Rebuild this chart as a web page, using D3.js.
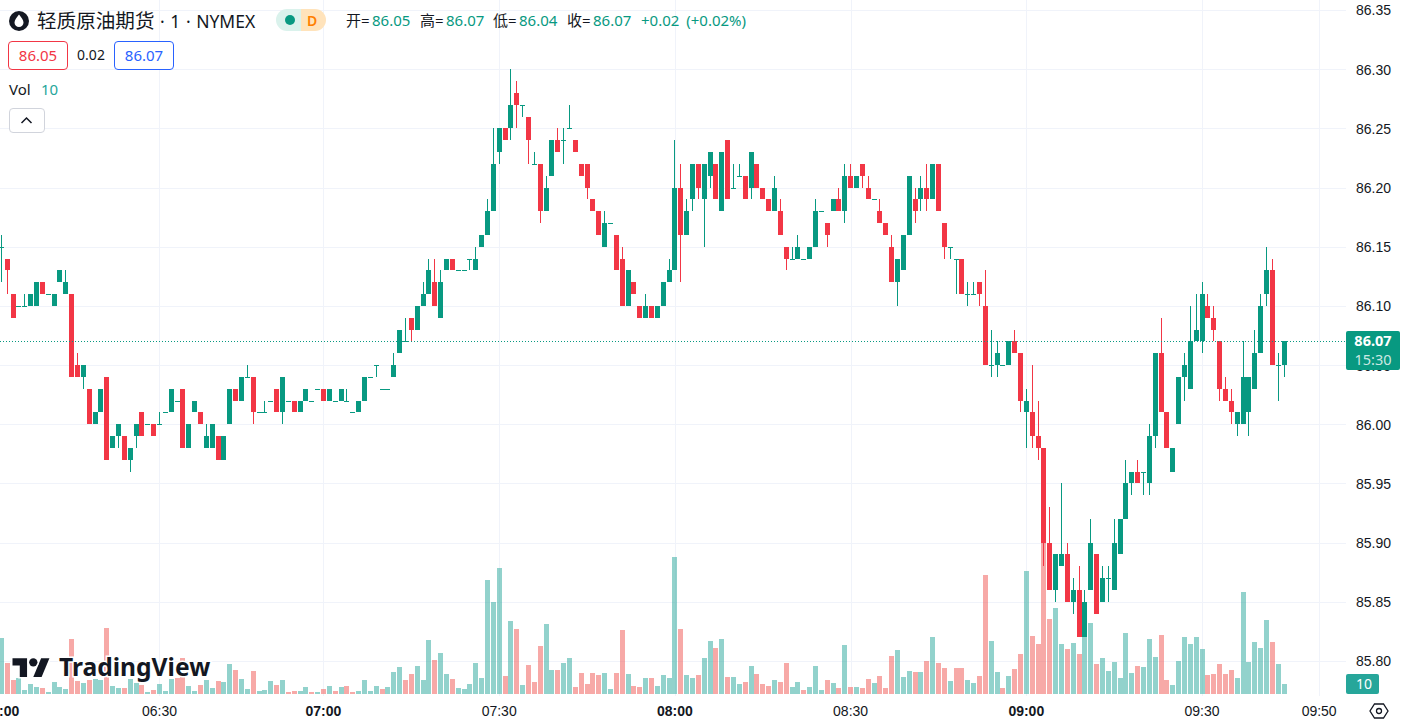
<!DOCTYPE html>
<html lang="zh">
<head>
<meta charset="UTF-8" />
<title>轻质原油期货 1分钟</title>
<style>
  html, body { margin: 0; padding: 0; background: #fff; overflow: hidden; }
  svg { display: block; font-family: "Noto Sans", "Noto Sans CJK SC", sans-serif; }
  .axis text { font-size: 14px; fill: #131722; }
  .axis path, .axis line { display: none; }
</style>
</head>
<body>
<script src="https://cdn.jsdelivr.net/npm/d3@7"></script>
<script>
const opens = [
  86.15,86.14,86.11,86.10,86.10,86.10,86.10,86.12,86.11,86.10,
  86.12,86.11,86.11,86.05,86.04,86.03,86.00,86.01,86.04,85.98,
  85.99,85.99,85.97,85.99,86.01,86.00,86.00,86.00,86.01,86.01,
  86.02,86.03,85.98,86.01,86.01,85.98,85.98,85.99,85.97,86.00,
  86.03,86.02,86.04,86.04,86.01,86.01,86.02,86.03,86.01,86.02,
  86.02,86.01,86.02,86.02,86.03,86.03,86.02,86.02,86.02,86.02,
  86.01,86.01,86.02,86.04,86.05,86.03,86.03,86.04,86.06,86.07,
  86.09,86.08,86.10,86.11,86.12,86.09,86.13,86.14,86.13,86.13,
  86.14,86.13,86.15,86.16,86.18,86.23,86.25,86.25,86.28,86.27,
  86.26,86.22,86.22,86.18,86.21,86.24,86.24,86.25,86.24,86.22,
  86.22,86.19,86.18,86.15,86.17,86.16,86.14,86.10,86.12,86.10,
  86.09,86.10,86.09,86.10,86.12,86.13,86.20,86.16,86.19,86.22,
  86.19,86.21,86.22,86.18,86.24,86.20,86.21,86.21,86.20,86.22,
  86.20,86.19,86.18,86.18,86.15,86.14,86.14,86.14,86.14,86.15,
  86.18,86.17,86.18,86.19,86.18,86.21,86.20,86.22,86.20,86.19,
  86.18,86.17,86.15,86.12,86.13,86.16,86.19,86.19,86.20,86.19,
  86.22,86.17,86.15,86.14,86.14,86.11,86.11,86.12,86.10,86.05,
  86.05,86.05,86.05,86.07,86.06,86.01,86.01,85.99,85.98,85.90,
  85.86,85.88,85.89,85.85,85.86,85.82,85.86,85.89,85.85,85.87,
  85.86,85.89,85.92,85.95,85.96,85.96,85.95,85.99,86.06,86.01,
  85.96,86.00,86.04,86.03,86.07,86.07,86.10,86.09,86.07,86.03,
  86.02,86.00,86.00,86.01,86.03,86.06,86.11,86.13,86.05,86.05
];
const highs = [
  86.16,86.14,86.11,86.10,86.11,86.11,86.12,86.12,86.11,86.11,
  86.13,86.13,86.11,86.06,86.05,86.03,86.01,86.03,86.04,85.99,
  86.00,85.99,85.98,86.00,86.01,86.00,86.00,86.01,86.01,86.03,
  86.02,86.03,86.00,86.02,86.01,86.00,86.00,85.99,85.99,86.03,
  86.03,86.04,86.05,86.04,86.01,86.02,86.02,86.03,86.04,86.02,
  86.02,86.02,86.03,86.02,86.03,86.03,86.03,86.02,86.03,86.03,
  86.01,86.02,86.04,86.04,86.05,86.03,86.03,86.06,86.08,86.09,
  86.09,86.10,86.12,86.14,86.14,86.13,86.14,86.14,86.13,86.13,
  86.14,86.15,86.16,86.19,86.25,86.25,86.25,86.30,86.29,86.27,
  86.26,86.23,86.22,86.21,86.24,86.25,86.25,86.27,86.24,86.22,
  86.22,86.19,86.18,86.18,86.17,86.16,86.15,86.13,86.12,86.10,
  86.11,86.10,86.10,86.12,86.14,86.24,86.22,86.19,86.22,86.22,
  86.22,86.23,86.22,86.23,86.24,86.22,86.22,86.21,86.23,86.22,
  86.20,86.19,86.21,86.19,86.15,86.15,86.16,86.14,86.15,86.19,
  86.18,86.17,86.19,86.20,86.22,86.22,86.21,86.22,86.21,86.19,
  86.19,86.17,86.16,86.14,86.16,86.21,86.20,86.21,86.22,86.22,
  86.22,86.17,86.15,86.14,86.14,86.12,86.12,86.12,86.13,86.08,
  86.07,86.05,86.07,86.08,86.06,86.03,86.05,86.02,85.98,85.93,
  85.89,85.95,85.90,85.87,85.88,85.86,85.92,85.89,85.88,85.88,
  85.92,85.92,85.97,85.96,85.97,85.96,86.00,86.06,86.09,86.01,
  85.98,86.04,86.06,86.10,86.11,86.12,86.11,86.10,86.07,86.04,
  86.03,86.01,86.07,86.04,86.08,86.11,86.15,86.14,86.06,86.07
];
const lows = [
  86.12,86.11,86.09,86.10,86.10,86.10,86.10,86.11,86.11,86.10,
  86.12,86.11,86.04,86.04,86.03,86.00,86.00,86.01,85.97,85.98,
  85.98,85.97,85.96,85.98,85.99,86.00,85.99,86.00,86.01,86.01,
  86.02,85.98,85.98,86.01,86.00,85.98,85.98,85.97,85.97,86.00,
  86.02,86.02,86.04,86.00,86.01,86.01,86.02,86.01,86.00,86.02,
  86.01,86.01,86.02,86.02,86.03,86.02,86.02,86.02,86.02,86.02,
  86.01,86.01,86.02,86.04,86.04,86.03,86.03,86.04,86.06,86.07,
  86.07,86.08,86.10,86.11,86.10,86.09,86.13,86.13,86.13,86.13,
  86.13,86.13,86.15,86.16,86.18,86.22,86.24,86.24,86.25,86.26,
  86.22,86.22,86.17,86.18,86.21,86.23,86.22,86.25,86.23,86.21,
  86.19,86.18,86.16,86.15,86.17,86.13,86.10,86.10,86.11,86.09,
  86.09,86.09,86.09,86.10,86.12,86.13,86.12,86.16,86.18,86.19,
  86.15,86.20,86.19,86.18,86.19,86.20,86.21,86.19,86.19,86.20,
  86.19,86.18,86.18,86.16,86.13,86.14,86.14,86.14,86.14,86.15,
  86.18,86.15,86.18,86.18,86.17,86.20,86.20,86.20,86.19,86.19,
  86.17,86.16,86.12,86.10,86.13,86.16,86.17,86.18,86.18,86.19,
  86.18,86.14,86.14,86.11,86.11,86.10,86.11,86.10,86.05,86.04,
  86.04,86.05,86.05,86.06,86.01,85.98,85.98,85.97,85.88,85.86,
  85.85,85.88,85.85,85.84,85.82,85.82,85.86,85.84,85.85,85.85,
  85.86,85.89,85.92,85.94,85.95,85.94,85.94,85.98,86.01,85.98,
  85.96,86.00,86.02,86.03,86.07,86.06,86.09,86.07,86.02,86.02,
  86.00,85.99,86.00,85.99,86.03,86.06,86.10,86.05,86.02,86.04
];
const closes = [
  86.15,86.13,86.09,86.10,86.10,86.11,86.12,86.11,86.11,86.11,
  86.13,86.12,86.04,86.04,86.05,86.00,86.01,86.03,85.97,85.99,
  86.00,85.97,85.98,86.00,85.99,86.00,85.99,86.00,86.01,86.03,
  86.02,85.98,86.00,86.02,86.00,85.99,86.00,85.97,85.99,86.03,
  86.02,86.04,86.04,86.01,86.01,86.01,86.02,86.01,86.04,86.02,
  86.01,86.02,86.03,86.02,86.03,86.02,86.03,86.02,86.03,86.02,
  86.01,86.02,86.04,86.04,86.05,86.03,86.03,86.05,86.08,86.07,
  86.08,86.10,86.11,86.13,86.10,86.12,86.14,86.13,86.13,86.13,
  86.14,86.14,86.16,86.18,86.22,86.25,86.24,86.27,86.27,86.27,
  86.24,86.22,86.18,86.20,86.24,86.23,86.24,86.25,86.23,86.21,
  86.20,86.18,86.16,86.17,86.17,86.13,86.10,86.13,86.11,86.09,
  86.10,86.09,86.10,86.12,86.13,86.20,86.16,86.18,86.22,86.20,
  86.22,86.23,86.19,86.23,86.19,86.20,86.21,86.19,86.23,86.20,
  86.19,86.18,86.20,86.16,86.14,86.14,86.15,86.14,86.15,86.18,
  86.18,86.16,86.19,86.18,86.21,86.20,86.21,86.21,86.19,86.19,
  86.17,86.16,86.12,86.14,86.16,86.21,86.18,86.20,86.19,86.22,
  86.18,86.15,86.15,86.14,86.11,86.11,86.11,86.11,86.05,86.05,
  86.06,86.05,86.07,86.06,86.02,86.02,85.99,85.98,85.90,85.86,
  85.89,85.89,85.85,85.86,85.82,85.85,85.90,85.84,85.87,85.87,
  85.90,85.92,85.95,85.96,85.95,85.96,85.99,86.06,86.01,85.98,
  85.98,86.04,86.05,86.07,86.08,86.11,86.09,86.08,86.03,86.02,
  86.01,86.01,86.04,86.04,86.06,86.10,86.13,86.05,86.05,86.07
];
const volumes = [
  56,31,14,16,4,10,7,6,2,12,
  7,5,55,13,11,14,15,14,66,8,
  6,6,15,11,9,2,4,10,3,15,
  16,36,8,3,9,14,6,13,12,30,
  24,15,5,23,3,4,13,9,14,2,
  3,3,7,2,2,5,8,3,7,8,
  2,3,14,3,8,5,7,22,27,14,
  20,28,14,54,34,41,20,15,6,5,
  10,31,16,114,92,126,18,73,65,9,
  29,12,48,70,24,24,31,36,7,21,
  10,21,19,21,5,21,64,20,8,7,
  16,16,8,19,16,137,65,19,16,19,
  36,53,46,55,17,17,10,12,28,20,
  10,8,14,12,31,7,12,4,7,28,
  4,14,11,6,49,7,7,6,15,11,
  18,6,38,44,17,23,22,22,33,57,
  31,26,13,26,26,14,11,18,119,53,
  22,6,18,25,40,123,58,50,155,75,
  86,50,45,51,40,60,71,30,36,23,
  32,16,61,21,28,27,55,37,59,14,
  9,33,57,50,57,45,19,20,30,20,
  24,16,102,32,52,46,74,52,30,10
];

const priceTicks = [86.35,86.30,86.25,86.20,86.15,86.10,86.05,86.00,85.95,85.90,85.85,85.80];
const timeLabels = ["06:00","06:30","07:00","07:30","08:00","08:30","09:00","09:30","09:50"];
const timeBars = [0,27,55,85,115,145,175,205,225]; // bar index of each label, a few minutes have no bar
const boldTimes = ["06:00","07:00","08:00","09:00"];
const lastPrice = 86.07;

const green = "#089981", red = "#f23645";
const volGreen = "#26a69a", volRed = "#ef5350";
const W = 1406, H = 725;

const svg = d3.select("body").append("svg").attr("width", W).attr("height", H);

const x = d3.scaleLinear().domain([0, 219]).range([1.3, 1284]);
const y = d3.scaleLinear().domain([85.80, 86.35]).range([661, 10]);
const yVol = d3.scaleLinear().domain([0, 137]).range([694, 557]);

// flat bars take the colour of the move from the previous close, only on volume
const volDown = i =>
  closes[i] < opens[i] || (closes[i] === opens[i] && i > 0 && closes[i] < closes[i - 1]);

const timeMap = d3.scaleOrdinal().domain(timeLabels).range(timeBars.map(x));

// grid
const grid = svg.append("g").attr("shape-rendering", "crispEdges").attr("stroke", "#f0f3fa");
grid.selectAll(".h").data(priceTicks).enter().append("line")
  .attr("x1", 0).attr("x2", 1346)
  .attr("y1", d => Math.round(y(d)) + 0.5).attr("y2", d => Math.round(y(d)) + 0.5);
grid.selectAll(".v").data(timeLabels.slice(1)).enter().append("line")
  .attr("y1", 0).attr("y2", 696)
  .attr("x1", d => Math.round(timeMap(d)) + 0.5).attr("x2", d => Math.round(timeMap(d)) + 0.5);

const idx = d3.range(opens.length);
const bodyX = i => Math.round(x(i) - 2.5);

// volume
svg.append("g").attr("shape-rendering", "crispEdges").selectAll("rect").data(idx).enter().append("rect")
  .attr("x", bodyX)
  .attr("width", 5)
  .attr("y", i => yVol(volumes[i]))
  .attr("height", i => yVol(0) - yVol(volumes[i]))
  .attr("fill", i => volDown(i) ? volRed : volGreen)
  .attr("fill-opacity", 0.5);

// candles
const candles = svg.append("g").attr("shape-rendering", "crispEdges");
candles.selectAll("line").data(idx).enter().append("line")
  .attr("x1", i => bodyX(i) + 2.5)
  .attr("x2", i => bodyX(i) + 2.5)
  .attr("y1", i => y(highs[i]))
  .attr("y2", i => y(lows[i]))
  .attr("stroke", i => closes[i] < opens[i] ? red : green);
candles.selectAll("rect").data(idx).enter().append("rect")
  .attr("x", bodyX)
  .attr("width", 5)
  .attr("y", i => y(Math.max(opens[i], closes[i])))
  .attr("height", i => Math.max(1, Math.abs(y(opens[i]) - y(closes[i]))))
  .attr("fill", i => closes[i] < opens[i] ? red : green);

// last price line
svg.append("line")
  .attr("x1", 0).attr("x2", 1346)
  .attr("y1", Math.round(y(lastPrice)) + 0.5).attr("y2", Math.round(y(lastPrice)) + 0.5)
  .attr("stroke", green).attr("stroke-dasharray", "1 2");

// axes
svg.append("g").attr("class", "axis").attr("transform", "translate(1356,0.5)")
  .call(d3.axisRight(y).tickValues(priceTicks).tickFormat(d3.format(".2f")).tickSize(0).tickPadding(0));

const axisX = svg.append("g").attr("class", "axis").attr("transform", "translate(0,706)")
  .call(d3.axisBottom(d3.scalePoint().domain(timeLabels).range([0, 1])).tickSize(0).tickPadding(0));
axisX.selectAll(".tick").attr("transform", d => `translate(${timeMap(d)},0)`);
axisX.selectAll("text")
  .attr("font-weight", d => boldTimes.includes(d) ? 700 : 400)
  .attr("fill-opacity", 1);

// price badges
const badge = svg.append("g");
badge.append("rect").attr("x", 1346).attr("y", 331).attr("width", 54).attr("height", 39).attr("rx", 2).attr("fill", green);
badge.append("text").attr("x", 1373).attr("y", 346).attr("text-anchor", "middle")
  .attr("font-size", 14.5).attr("font-weight", 700).attr("fill", "#fff").text("86.07");
badge.append("text").attr("x", 1373).attr("y", 365).attr("text-anchor", "middle")
  .attr("font-size", 14.5).attr("fill", "#fff").attr("fill-opacity", 0.8).text("15:30");
badge.append("rect").attr("x", 1346).attr("y", 674).attr("width", 33).attr("height", 20).attr("rx", 2).attr("fill", "#26a69a");
badge.append("text").attr("x", 1364).attr("y", 689).attr("text-anchor", "middle")
  .attr("font-size", 14).attr("fill", "#fff").text("10");

// settings icon
const gear = svg.append("g").attr("transform", "translate(1379,711)").attr("fill", "none")
  .attr("stroke", "#131722").attr("stroke-width", 1.3);
gear.append("path").attr("d", "M-4.5 -7 L4.5 -7 L9 0 L4.5 7 L-4.5 7 L-9 0 Z");
gear.append("circle").attr("r", 2.5);

// watermark
const logo = svg.append("g");
logo.append("g").attr("transform", "translate(12.5,654) scale(1.04)")
  .attr("fill", "#131722").attr("stroke", "#fff").attr("stroke-width", 3).attr("paint-order", "stroke")
  .call(g => {
    g.append("path").attr("d", "M14 22H7V11H0V4h14v18z");
    g.append("path").attr("d", "M28 22h-8l7.5-18h8L28 22z");
    g.append("circle").attr("cx", 20).attr("cy", 8).attr("r", 4);
  });
logo.append("text").attr("x", 59).attr("y", 676).attr("font-size", 24.6).attr("font-weight", 700)
  .attr("fill", "#131722").attr("stroke", "#fff").attr("stroke-width", 3).attr("paint-order", "stroke")
  .text("TradingView");

// header
const head = svg.append("g");
head.append("circle").attr("cx", 19).attr("cy", 21).attr("r", 10).attr("fill", "#131722");
head.append("path").attr("d", "M19 14.5 C21 17.5 23.5 19.5 23.5 22.5 A4.5 4.5 0 0 1 14.5 22.5 C14.5 19.5 17 17.5 19 14.5 Z").attr("fill", "#fff");
const title = head.append("text").attr("x", 37).attr("y", 28).attr("fill", "#131722");
title.append("tspan").attr("font-size", 19.6).text("轻质原油期货");
title.append("tspan").attr("font-size", 17.5).attr("word-spacing", 1).text(" · 1 · NYMEX");

head.append("path").attr("d", "M287 9 H301 V31 H287 A11 11 0 0 1 287 9 Z").attr("fill", "#daf2ec");
head.append("path").attr("d", "M301 9 H315 A11 11 0 0 1 315 31 H301 Z").attr("fill", "#ffe3bb");
head.append("circle").attr("cx", 290).attr("cy", 20).attr("r", 5).attr("fill", green);
head.append("text").attr("x", 312).attr("y", 26).attr("text-anchor", "middle").attr("font-size", 14)
  .attr("font-weight", 600).attr("fill", "#ff7f00").text("D");

const ohlcLabels = ["开=", "高=", "低=", "收="];
const ohlcValues = ["86.05", "86.07", "86.04", "86.07"];
const ohlcX = [346, 420, 493, 567];
ohlcLabels.forEach((t, i) => {
  head.append("text").attr("x", ohlcX[i]).attr("y", 26).attr("font-size", 15).attr("fill", "#131722").text(t);
  head.append("text").attr("x", ohlcX[i] + 26).attr("y", 26).attr("font-size", 15).attr("fill", green).text(ohlcValues[i]);
});
head.append("text").attr("x", 641).attr("y", 26).attr("font-size", 15).attr("word-spacing", 3).attr("fill", green).text("+0.02 (+0.02%)");

head.append("rect").attr("x", 8.5).attr("y", 41.5).attr("width", 59).attr("height", 28).attr("rx", 3.5).attr("fill", "#fff").attr("stroke", red);
head.append("text").attr("x", 38).attr("y", 61).attr("text-anchor", "middle").attr("font-size", 15).attr("fill", red).text("86.05");
head.append("text").attr("x", 91).attr("y", 60).attr("text-anchor", "middle").attr("font-size", 14).attr("fill", "#131722").text("0.02");
head.append("rect").attr("x", 114.5).attr("y", 41.5).attr("width", 59).attr("height", 28).attr("rx", 3.5).attr("fill", "#fff").attr("stroke", "#2962ff");
head.append("text").attr("x", 144).attr("y", 61).attr("text-anchor", "middle").attr("font-size", 15).attr("fill", "#2962ff").text("86.07");

head.append("text").attr("x", 9).attr("y", 95).attr("font-size", 15).attr("fill", "#131722").text("Vol");
head.append("text").attr("x", 41).attr("y", 95).attr("font-size", 15).attr("fill", "#26a69a").text("10");

head.append("rect").attr("x", 9.5).attr("y", 108.5).attr("width", 35).attr("height", 24).attr("rx", 3.5).attr("fill", "#fff").attr("stroke", "#d1d4dc");
head.append("path").attr("d", "M21.5 123 L26.5 118 L31.5 123").attr("fill", "none").attr("stroke", "#131722").attr("stroke-width", 1.5);
</script>
</body>
</html>
